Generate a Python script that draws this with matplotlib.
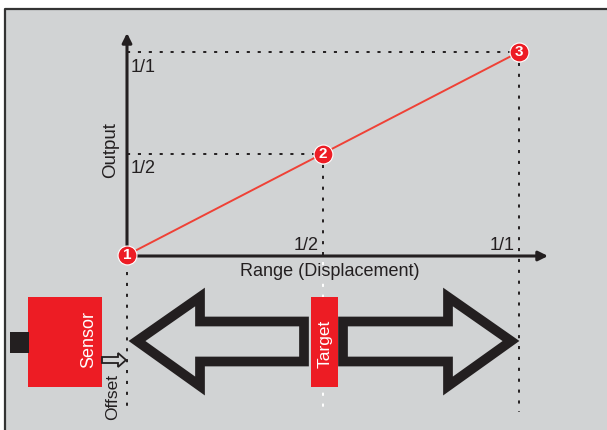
import numpy as np
import matplotlib.pyplot as plt
from matplotlib.patches import Rectangle, Polygon

plt.rcParams['font.family'] = ['Liberation Sans', 'DejaVu Sans']

# range / output values of the three numbered points
range_frac = [0.0, 0.5, 1.0]
output_frac = [0.0, 0.5, 1.0]
point_labels = ['1', '2', '3']
tick_vals = [0.5, 1.0]
tick_labels = ['1/2', '1/1']

grey = '#d1d3d4'
ink = '#231f20'
red = '#ed1c24'
line_red = '#ef4136'

# pixel calibration of the picture: origin at (127, 255), unit = 392 x 203 px
X0, Y0, SX, SY = 127.0, 255.0, 392.0, 203.0


def px(x, y):
    return ((x - X0) / SX, (Y0 - y) / SY)


fig = plt.figure(figsize=(6.07, 4.30), dpi=100)
fig.patch.set_facecolor('white')
ax = fig.add_axes([0, 0, 1, 1])
ax.set_xlim(px(0, 0)[0], px(607, 0)[0])
ax.set_ylim(px(0, 430)[1], px(0, 0)[1])
ax.axis('off')

# grey panel with dark frame on left / top
x_a, y_a = px(5, 430)
x_b, y_b = px(607, 9)
ax.add_patch(Rectangle((x_a, y_a), x_b - x_a, y_b - y_a, facecolor=grey, edgecolor='none', zorder=0))
ax.plot([x_a, x_a, x_b], [y_a, y_b, y_b], color='#333333', lw=1.6, zorder=1)

dots = dict(lw=1.4, dashes=(1.6, 4.0), zorder=2)

# guide lines
ax.plot([0, range_frac[2]], [output_frac[2]] * 2, color=ink, **dots)
ax.plot([0, range_frac[1]], [output_frac[1]] * 2, color=ink, **dots)
ax.plot([range_frac[2]] * 2, [output_frac[2], px(0, 412)[1]], color=ink, **dots)
ax.plot([range_frac[1]] * 2, [output_frac[1], 0], color=ink, **dots)
ax.plot([range_frac[1]] * 2, [px(0, 262)[1], px(0, 412)[1]], color='white', **dots)
ax.plot([range_frac[0]] * 2, [px(0, 272)[1], px(0, 412)[1]], color=ink, **dots)

# axes arrows
arr = dict(arrowstyle='-|>', color=ink, lw=2.2, mutation_scale=14, shrinkA=0, shrinkB=0)
ax.annotate('', xy=px(127, 33), xytext=(0, 0), arrowprops=arr, zorder=3)
ax.annotate('', xy=px(548, 256), xytext=px(126, 256), arrowprops=arr, zorder=3)

# response line and numbered points
ax.plot(range_frac, output_frac, color=line_red, lw=1.4, zorder=4)
ax.scatter(range_frac, output_frac, s=185, color=red, edgecolor='white', linewidth=0.8, zorder=5)
for xv, yv, lab in zip(range_frac, output_frac, point_labels):
    ax.text(xv, yv, lab, color='white', fontsize=11, fontweight='bold', ha='center', va='center', zorder=6)

# tick labels
for v, lab in zip(tick_vals, tick_labels):
    ax.text(px(131, 0)[0], v - 15 / SY, lab, fontsize=13, color=ink, ha='left', va='center')
    ax.text(v - 4 / SX, px(0, 245)[1], lab, fontsize=13, color=ink, ha='right', va='center')

ax.text(*px(330, 271), 'Range (Displacement)', fontsize=13, color=ink, ha='center', va='center')
ax.text(*px(111, 150), 'Output', fontsize=13.5, color=ink, rotation=90, ha='center', va='center')

# sensor
s0 = px(28, 387)
s1 = px(102, 297)
ax.add_patch(Rectangle(s0, s1[0] - s0[0], s1[1] - s0[1], facecolor=red, edgecolor='none', zorder=3))
b0 = px(10, 353)
b1 = px(29, 332)
ax.add_patch(Rectangle(b0, b1[0] - b0[0], b1[1] - b0[1], facecolor=ink, edgecolor='none', zorder=3))
ax.text(*px(89, 340), 'Sensor', fontsize=13, color='white', rotation=90, ha='center', va='center', zorder=4)

# offset arrow
off_pts = [px(102, 357), px(118, 357), px(118, 353), px(126, 360), px(118, 367), px(118, 363), px(102, 363)]
ax.add_patch(Polygon(off_pts, closed=True, facecolor=grey, edgecolor=ink, lw=1.3, zorder=4))
ax.text(*px(113, 397), 'Offset', fontsize=12.5, color=ink, rotation=90, ha='center', va='center')

# big double arrow
big = dict(closed=True, facecolor=grey, edgecolor=ink, lw=7.0, joinstyle='miter', zorder=3)
left_pts = [px(137, 341), px(200, 297), px(200, 321.5), px(304, 321.5),
            px(304, 361.5), px(200, 361.5), px(200, 386)]
right_pts = [px(511, 341), px(448, 297), px(448, 321.5), px(343, 321.5),
             px(343, 361.5), px(448, 361.5), px(448, 386)]
ax.add_patch(Polygon(left_pts, **big))
ax.add_patch(Polygon(right_pts, **big))

# target
t0 = px(311, 387)
t1 = px(338, 297)
ax.add_patch(Rectangle(t0, t1[0] - t0[0], t1[1] - t0[1], facecolor=red, edgecolor='none', zorder=4))
ax.text(*px(325, 344), 'Target', fontsize=12.5, color='white', rotation=90, ha='center', va='center', zorder=5)

fig.savefig('out.png', dpi=100)
